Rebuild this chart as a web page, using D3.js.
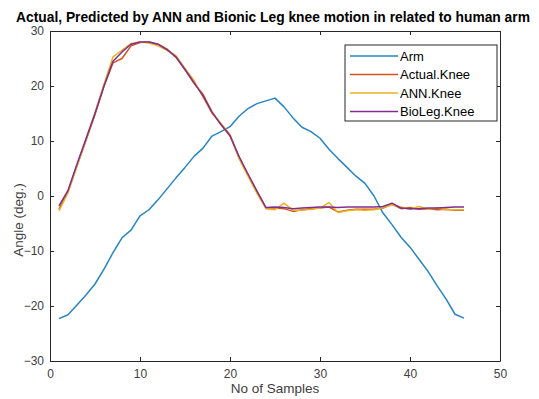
<!DOCTYPE html>
<html>
<head>
<meta charset="utf-8">
<script src="https://cdn.jsdelivr.net/npm/d3@7"></script>
<style>
  body { margin: 0; background: #fff; overflow: hidden; }
  svg { display: block; font-family: "Liberation Sans", Arial, sans-serif; }
</style>
</head>
<body>
<div id="chart"></div>
<script>
// sample index 1..46
const samples = d3.range(1, 47);

const arm = [-22.3, -21.6, -19.8, -18.0, -16.0, -13.3, -10.3, -7.6, -6.2, -3.6,
  -2.5, -0.7, 1.3, 3.3, 5.2, 7.2, 8.7, 10.9, 11.7, 12.6,
  14.5, 15.9, 16.8, 17.3, 17.8, 16.2, 14.2, 12.5, 11.7, 10.5,
  8.5, 6.8, 5.2, 3.6, 2.3, 0.0, -3.1, -5.2, -7.5, -9.3,
  -11.5, -13.7, -16.3, -18.7, -21.5, -22.2];

const actualKnee = [-2.4, 0.8, 5.5, 10.1, 14.8, 20.0, 24.2, 25.0, 27.3, 27.9,
  28.0, 27.6, 26.7, 25.2, 23.0, 20.5, 18.5, 15.3, 13.0, 10.9,
  7.0, 3.8, 0.7, -2.2, -2.2, -2.3, -2.8, -2.5, -2.3, -2.2,
  -2.0, -2.9, -2.6, -2.4, -2.4, -2.4, -2.2, -1.5, -2.3, -2.1,
  -2.4, -2.3, -2.5, -2.4, -2.6, -2.6];

const annKnee = [-2.7, 0.6, 5.4, 10.3, 15.2, 20.3, 25.3, 26.5, 27.7, 28.0,
  27.8, 27.3, 26.5, 25.5, 23.2, 21.0, 18.0, 15.0, 13.2, 11.2,
  6.8, 3.6, 0.5, -2.3, -2.5, -1.3, -2.6, -2.6, -2.4, -2.2,
  -1.2, -3.0, -2.7, -2.5, -2.6, -2.5, -2.1, -1.6, -2.0, -2.4,
  -1.9, -2.4, -2.2, -2.5, -2.5, -2.5];

const bioLegKnee = [-1.8, 1.0, 5.8, 10.4, 15.0, 20.0, 24.5, 26.2, 27.6, 28.0,
  28.0, 27.6, 26.6, 25.3, 23.0, 20.6, 18.2, 15.2, 13.0, 11.0,
  7.2, 4.0, 0.9, -2.1, -2.0, -2.1, -2.3, -2.2, -2.1, -2.0,
  -2.0, -2.1, -2.0, -2.0, -2.0, -2.0, -1.9, -1.3, -2.2, -2.3,
  -2.3, -2.2, -2.2, -2.1, -2.0, -2.0];

const seriesNames = ['Arm', 'Actual.Knee', 'ANN.Knee', 'BioLeg.Knee'];
const seriesColors = ['#2585c3', '#d95319', '#edb120', '#7e2f8e'];
const xTicks = [0, 10, 20, 30, 40, 50];
const yTicks = [-30, -20, -10, 0, 10, 20, 30];

const width = 539, height = 399;
const margin = { top: 31, right: 39, bottom: 38, left: 50 };
const innerWidth = width - margin.left - margin.right;
const innerHeight = height - margin.top - margin.bottom;

const svg = d3.select('#chart').append('svg')
  .attr('width', width)
  .attr('height', height);

const xScale = d3.scaleLinear().domain([0, 50]).range([0, innerWidth]);
const yScale = d3.scaleLinear().domain([-30, 30]).range([innerHeight, 0]);

const g = svg.append('g')
  .attr('transform', `translate(${margin.left},${margin.top})`);

// lines
const allSeries = [arm, actualKnee, annKnee, bioLegKnee];
const line = d3.line()
  .x((d, i) => xScale(samples[i]))
  .y(d => yScale(d));

allSeries.forEach((s, i) => {
  g.append('path')
    .datum(s)
    .attr('fill', 'none')
    .attr('stroke', seriesColors[i])
    .attr('stroke-width', 1.5)
    .attr('stroke-linejoin', 'round')
    .attr('d', line);
});

// axes (MATLAB style, ticks inside, box on)
const axisColor = '#262626';
const tickLen = 4;

g.append('g')
  .attr('transform', `translate(0,${innerHeight})`)
  .call(d3.axisBottom(xScale).tickValues(xTicks).tickSizeInner(-tickLen).tickSizeOuter(0).tickPadding(8));
g.append('g')
  .call(d3.axisLeft(yScale).tickValues(yTicks).tickSizeInner(-tickLen).tickSizeOuter(0).tickPadding(6));
g.append('g')
  .call(d3.axisTop(xScale).tickValues(xTicks).tickSizeInner(-tickLen).tickSizeOuter(0).tickFormat(() => ''));
g.append('g')
  .attr('transform', `translate(${innerWidth},0)`)
  .call(d3.axisRight(yScale).tickValues(yTicks).tickSizeInner(-tickLen).tickSizeOuter(0).tickFormat(() => ''));

g.selectAll('.domain').attr('stroke', axisColor).attr('stroke-width', 1);
g.selectAll('.tick line').attr('stroke', axisColor);
g.selectAll('.tick text')
  .attr('fill', '#404040')
  .style('font-size', '12px');

// title + axis labels
svg.append('text')
  .attr('x', 273)
  .attr('y', 21.5)
  .attr('text-anchor', 'middle')
  .style('font-weight', 'bold')
  .style('font-size', '13.8px')
  .attr('fill', '#000')
  .text('Actual, Predicted by ANN and Bionic Leg knee motion in related to human arm');

svg.append('text')
  .attr('x', margin.left + innerWidth / 2)
  .attr('y', 393)
  .attr('text-anchor', 'middle')
  .style('font-size', '13.5px')
  .attr('fill', '#404040')
  .text('No of Samples');

svg.append('text')
  .attr('transform', `translate(23,${margin.top + innerHeight / 2 + 24}) rotate(-90)`)
  .attr('text-anchor', 'middle')
  .style('font-size', '13.5px')
  .attr('fill', '#404040')
  .text('Angle (deg.)');

// legend
const legend = svg.append('g').attr('transform', 'translate(345,45)');
legend.append('rect')
  .attr('width', 152)
  .attr('height', 76)
  .attr('fill', '#fff')
  .attr('stroke', axisColor)
  .attr('stroke-width', 1);

seriesNames.forEach((name, i) => {
  const y = 11 + i * 18.5;
  legend.append('line')
    .attr('x1', 5).attr('x2', 53)
    .attr('y1', y).attr('y2', y)
    .attr('stroke', seriesColors[i])
    .attr('stroke-width', 1.5);
  legend.append('text')
    .attr('x', 55)
    .attr('y', y + 4.5)
    .style('font-size', '13px')
    .attr('fill', '#000')
    .text(name);
});
</script>
</body>
</html>
